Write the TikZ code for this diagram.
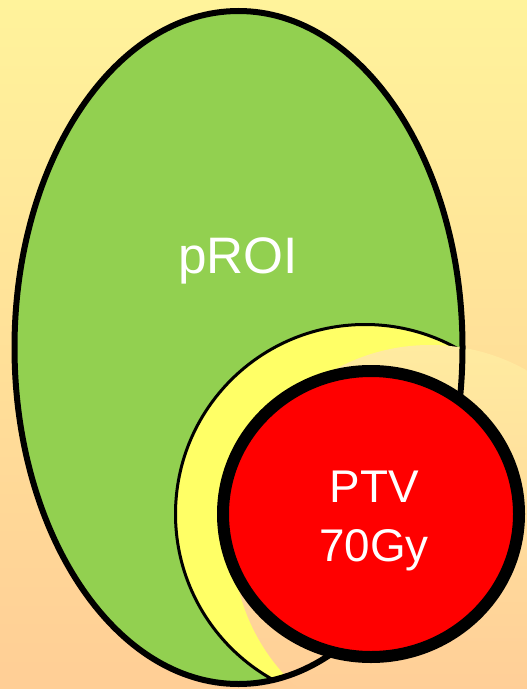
\documentclass[tikz,border=0pt]{standalone}
\usepackage{fontspec}
\setmainfont{Liberation Sans}
\definecolor{bgtop}{RGB}{255,243,155}
\definecolor{bgbot}{RGB}{255,206,150}
\definecolor{paletop}{RGB}{255,235,160}
\definecolor{palebot}{RGB}{255,202,150}
\definecolor{roigreen}{RGB}{146,208,80}
\definecolor{margin}{RGB}{255,255,102}
\definecolor{ptvred}{RGB}{255,0,0}
\begin{document}
\begin{tikzpicture}[x=1bp,y=1bp]
\tikzstyle{every node}+=[inner sep=0pt]
\useasboundingbox (0,0) rectangle (527,-689);
\shade[top color=bgtop,bottom color=bgbot] (0,0) rectangle (527,-689);
\fill[roigreen] (238.5,-347.5) ellipse (224 and 336.5);
\begin{scope}
\clip (238.5,-347.5) ellipse (224 and 336.5);
\filldraw[fill=margin,line width=3bp] (365,-514) circle (189.5);
\end{scope}
\shade[top color=paletop,bottom color=palebot] (430,-542) circle (197);
\draw[line width=6bp] (238.5,-347.5) ellipse (224 and 336.5);
\filldraw[fill=ptvred,line width=12bp] (371,-514) ellipse (148 and 143);
\node[anchor=base,white,font=\fontsize{51.5}{62}\selectfont] (proi) at (238,-273) {pROI};
\node[align=center,white,font=\fontsize{46}{59}\selectfont] (ptv) at (374,-521) {PTV\\70Gy};
\end{tikzpicture}
\end{document}
